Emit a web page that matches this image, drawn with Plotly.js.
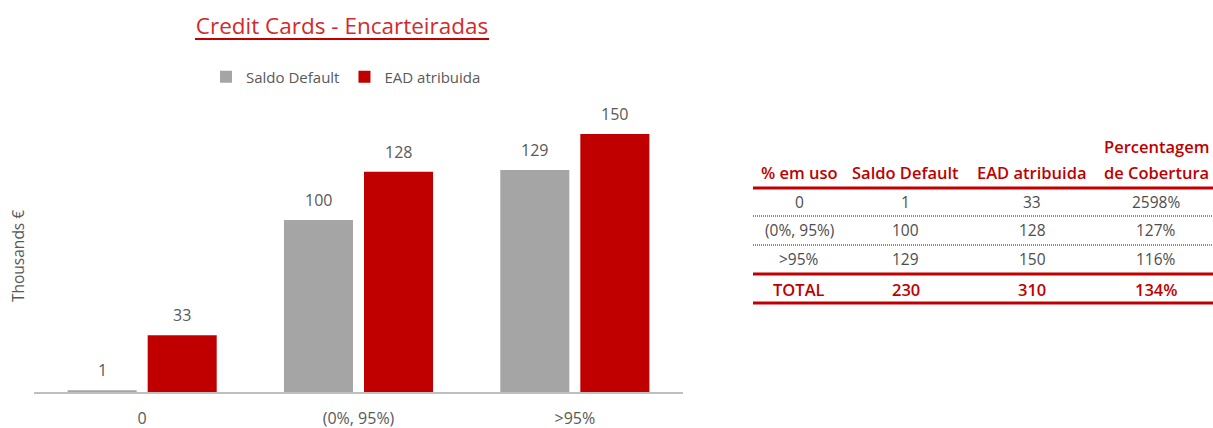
<!DOCTYPE html>
<html>
<head>
<meta charset="utf-8">
<script src="https://cdn.plot.ly/plotly-3.0.1.min.js"></script>
<style>html,body{margin:0;padding:0;background:#fff;}#chart{width:1213px;height:428px;}</style>
</head>
<body>
<div id="chart"></div>
<script>
// ---- Data ----
const categories = ['0', '(0%, 95%)', '>95%'];
const saldoDefault = [1, 100, 129];
const eadAtribuida = [33, 128, 150];
const seriesNames = ['Saldo Default', 'EAD atribuida'];
const yAxisTitle = 'Thousands €';
const chartTitle = 'Credit Cards - Encarteiradas';

const tableHeader = ['% em uso', 'Saldo Default', 'EAD atribuida', 'de Cobertura'];
const tableHeaderTop = ['', '', '', 'Percentagem'];
const tableCol1 = ['0', '(0%, 95%)', '>95%'];
const tableCol2 = ['1', '100', '129'];
const tableCol3 = ['33', '128', '150'];
const tableCol4 = ['2598%', '127%', '116%'];
const totalRow = ['TOTAL', '230', '310', '134%'];

// ---- Layout helpers (pixel -> paper) ----
const W = 1213, H = 428;
const M = {l: 34, r: 0, t: 100, b: 36};
const PW = W - M.l - M.r, PH = H - M.t - M.b;
const px = x => (x - M.l) / PW;
const py = y => (H - M.b - y) / PH;

const FONT = 'Open Sans, sans-serif';
const GRAY_TXT = '#595959';
const BODY_TXT = '#4d4d4d';
const RED = '#c00000';

const traces = [
  {type: 'bar', name: seriesNames[0], x: categories, y: saldoDefault,
   marker: {color: '#a5a5a5'}, hoverinfo: 'x+y'},
  {type: 'bar', name: seriesNames[1], x: categories, y: eadAtribuida,
   marker: {color: RED}, hoverinfo: 'x+y'}
];

const annotations = [];
// bar value labels
const barShift = 40;
[saldoDefault, eadAtribuida].forEach((vals, s) => {
  vals.forEach((v, i) => {
    annotations.push({x: categories[i], y: v, xref: 'x', yref: 'y',
      text: String(v), showarrow: false, yanchor: 'bottom', yshift: 7,
      xshift: s === 0 ? -barShift : barShift,
      font: {family: FONT, size: 16, color: GRAY_TXT}});
  });
});
// y axis title
annotations.push({x: px(18), y: py(256), xref: 'paper', yref: 'paper', text: yAxisTitle,
  textangle: -90, showarrow: false, xanchor: 'center', yanchor: 'middle',
  font: {family: FONT, size: 15.5, color: GRAY_TXT}});

// table text
const colX = [799, 906, 1032, 1156];
const headFont = {family: FONT, size: 16.5, color: RED, weight: 600};
tableHeaderTop.forEach((t, c) => {
  if (t) annotations.push({x: px(colX[c]), y: py(146), xref: 'paper', yref: 'paper',
    text: t, showarrow: false, xanchor: 'center', yanchor: 'middle', font: headFont});
});
tableHeader.forEach((t, c) => {
  annotations.push({x: px(colX[c]), y: py(172), xref: 'paper', yref: 'paper',
    text: t, showarrow: false, xanchor: 'center', yanchor: 'middle', font: headFont});
});
const rowY = [202, 230, 259];
[tableCol1, tableCol2, tableCol3, tableCol4].forEach((col, c) => {
  col.forEach((t, r) => {
    annotations.push({x: px(colX[c]), y: py(rowY[r]), xref: 'paper', yref: 'paper',
      text: t, showarrow: false, xanchor: 'center', yanchor: 'middle',
      font: {family: FONT, size: 15.5, color: BODY_TXT}});
  });
});
totalRow.forEach((t, c) => {
  annotations.push({x: px(colX[c]), y: py(289), xref: 'paper', yref: 'paper',
    text: t, showarrow: false, xanchor: 'center', yanchor: 'middle',
    font: {family: FONT, size: 16.5, color: RED, weight: 600}});
});

const shapes = [];
const hline = (y, color, width, dash) => shapes.push({type: 'line', xref: 'paper', yref: 'paper',
  x0: px(753), x1: px(1213), y0: py(y), y1: py(y), line: {color, width, dash: dash || 'solid'}});
hline(188, RED, 3);
hline(216, '#8c8c8c', 2, '1px,1px');
hline(245, '#8c8c8c', 2, '1px,1px');
hline(274, RED, 3);
hline(303, RED, 3);
// title underline
shapes.push({type: 'line', xref: 'paper', yref: 'paper', x0: px(195), x1: px(489),
  y0: py(39), y1: py(39), line: {color: RED, width: 2}});

const layout = {
  width: W, height: H,
  margin: M,
  paper_bgcolor: '#fff', plot_bgcolor: '#fff',
  font: {family: FONT, color: GRAY_TXT},
  title: {text: chartTitle, x: 342 / W, xref: 'container', xanchor: 'center',
    y: 1 - 26 / H, yref: 'container', yanchor: 'middle',
    font: {family: FONT, size: 22.5, color: '#d42a2a'}},
  barmode: 'group', bargap: 0.26, bargroupgap: 0.1375,
  showlegend: true,
  legend: {orientation: 'h', x: px(206), xanchor: 'left', y: py(77), yanchor: 'middle',
    xref: 'paper', yref: 'paper', font: {family: FONT, size: 15, color: GRAY_TXT},
    itemclick: false, traceorder: 'normal'},
  xaxis: {type: 'category', domain: [0, px(683)], range: [-0.5, 2.5], showline: true,
    linecolor: '#bfbfbf', linewidth: 1.5,
    ticks: '', showgrid: false, zeroline: false, ticklabelstandoff: 11,
    tickfont: {family: FONT, size: 16, color: GRAY_TXT}, fixedrange: true},
  yaxis: {range: [0, PH / 1.72], showticklabels: false, showgrid: false, zeroline: false, showline: false,
    automargin: false, fixedrange: true},
  annotations, shapes
};

Plotly.newPlot('chart', traces, layout, {displayModeBar: false, staticPlot: true});
</script>
</body>
</html>
